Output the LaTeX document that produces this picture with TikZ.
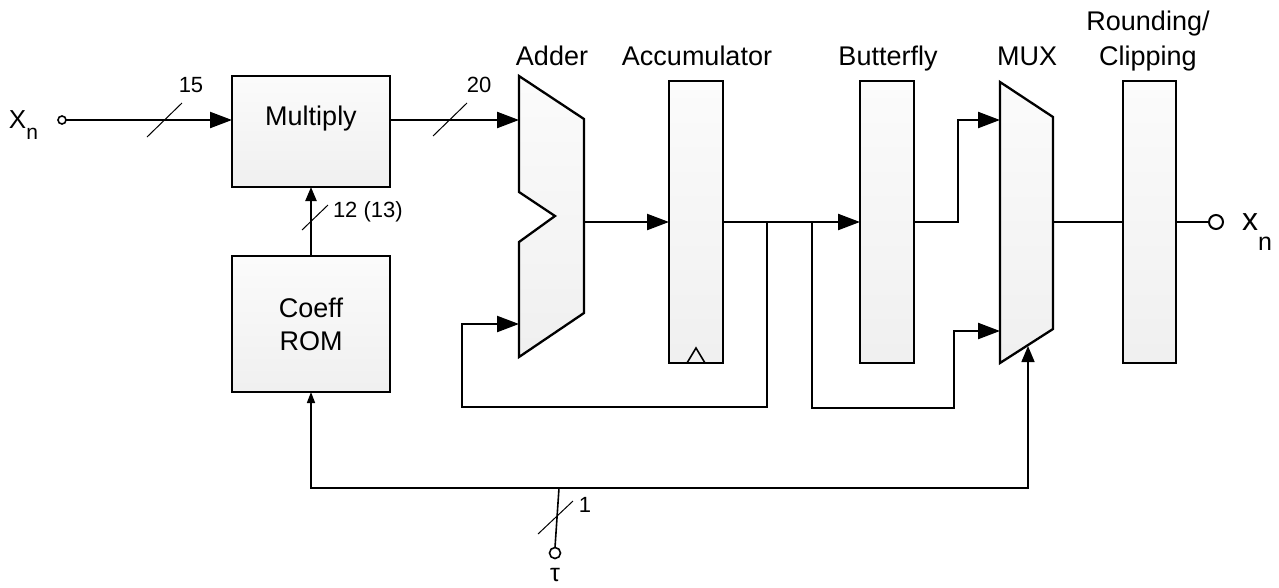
\documentclass[tikz,border=0pt]{standalone}
\usepackage{fontspec}
\setmainfont{Liberation Sans}
\usetikzlibrary{arrows.meta}
\begin{document}
\begin{tikzpicture}[x=1pt,y=-1pt,
  every node/.style={inner sep=0pt, outer sep=0pt},
  blk/.style={draw, line width=2.3pt, top color=gray!3, bottom color=gray!12, rectangle},
  blkshape/.style={draw, line width=2.3pt, top color=gray!3, bottom color=gray!12, line join=miter},
  wire/.style={line width=2.3pt},
  thinwire/.style={line width=1.6pt},
  bigarr/.style={-{Triangle[length=22pt,width=16pt]}},
  medarr/.style={-{Triangle[length=14pt,width=11pt]}},
  bwslash/.style={line width=1pt},
  lbl/.style={font=\fontsize{27}{32}\selectfont, anchor=base},
  bwlbl/.style={font=\fontsize{22}{26}\selectfont},
  portc/.style={draw, circle, fill=white, inner sep=0pt}
]
\useasboundingbox (0,0) rectangle (1279,587);

% blocks
\node[blk, minimum width=158pt, minimum height=111pt] (mult) at (311,131.5) {};
\node[blk, minimum width=158pt, minimum height=136pt] (coeff) at (311,324) {};
\node[blk, minimum width=54pt, minimum height=282pt] (acc) at (696,222) {};
\node[blk, minimum width=54pt, minimum height=282pt] (bfly) at (887,222) {};
\node[blk, minimum width=53pt, minimum height=282pt] (round) at (1149.5,222) {};

% adder
\path[blkshape] (519,76) -- (584,119) -- (584,313) -- (519,357) -- (519,242) -- (555,216) -- (519,192) -- cycle;
\coordinate (addin1) at (519,120);
\coordinate (addin2) at (519,324);
\coordinate (addout) at (584,222);
% mux
\path[blkshape] (1000,82) -- (1053,117) -- (1053,329) -- (1000,363) -- cycle;
\coordinate (muxin1) at (1000,120);
\coordinate (muxin2) at (1000,331);
\coordinate (muxout) at (1053,222);
\coordinate (muxsel) at (1028,346);

% clock mark
\draw[line width=1.6pt, line join=miter] (687,363) -- (696,348) -- (705,363);

% texts in blocks
\node[lbl] (tmult) at (311,125) {Multiply};
\node[lbl] (tcoeff) at (311,317) {Coeff};
\node[lbl] (trom) at (311,350) {ROM};

% titles
\node[lbl] (tadder) at (552,65) {Adder};
\node[lbl] (tacc) at (697,65) {Accumulator};
\node[lbl] (tbfly) at (888,65) {Butterfly};
\node[lbl] (tmux) at (1027,65) {MUX};
\node[lbl] (tround) at (1148,30) {Rounding/};
\node[lbl] (tclip) at (1148,65) {Clipping};

% ports
\node[portc, line width=1.6pt, minimum size=8pt] (xin) at (62,120) {};
\node[portc, line width=2pt, minimum size=14pt] (xout) at (1216,222) {};
\node[portc, line width=1.6pt, minimum size=11pt] (tauc) at (555,553) {};
\node[font=\fontsize{26}{30}\selectfont, anchor=base west] (lxin) at (9,128) {X\raisebox{-11pt}{\fontsize{21}{21}\selectfont n}};
\node[font=\fontsize{32}{36}\selectfont, anchor=base west] (lxout) at (1242,230) {x\raisebox{-20pt}{\fontsize{25}{25}\selectfont n}};
\node[font=\fontsize{25}{28}\selectfont] (ltau) at (555,575) {τ};

% junction coordinates
\coordinate (j1) at (767,222);
\coordinate (j2) at (812,222);
\coordinate (bfb) at (958,222);
\coordinate (busL) at (311,488);
\coordinate (busR) at (1028,488);
\coordinate (tauj) at (559,488);

% wires
\draw[wire,bigarr] (xin.east) -- (xin -| mult.west);
\draw[wire,bigarr] (mult.east |- addin1) -- (addin1);
\draw[wire,medarr] (coeff.north) -- (mult.south);
\draw[wire,bigarr] (addout) -- (acc.west);
\draw[wire,bigarr] (acc.east) -- (bfly.west);
\draw[wire,bigarr,line join=miter] (j1) |- (462,407) |- (addin2);
\draw[wire,bigarr,line join=miter] (j2) |- (954,408) |- (muxin2);
\draw[wire,bigarr,line join=miter] (bfly.east) -- (bfb) |- (muxin1);
\draw[wire] (muxout) -- (round.west);
\draw[wire] (round.east) -- (xout.west);
\draw[thinwire,line join=miter,{Triangle[length=11pt,width=8pt]}-{Triangle[length=16pt,width=13pt]}] (coeff.south) -- (busL) -- (busR) -- (muxsel);
\draw[thinwire] (tauc.north) -- (tauj);

% bus width slashes and labels
\draw[bwslash] (147,137) -- (182,103);
\node[bwlbl] (l15) at (191,85) {15};
\draw[bwslash] (433,136) -- (467,103);
\node[bwlbl] (l20) at (479,85) {20};
\draw[bwslash] (302,230) -- (328,205);
\node[bwlbl, anchor=base west] (l12) at (333,217) {12 (13)};
\draw[bwslash] (538,534) -- (573,501);
\node[bwlbl] (l1) at (585,504.5) {1};
\end{tikzpicture}
\end{document}
